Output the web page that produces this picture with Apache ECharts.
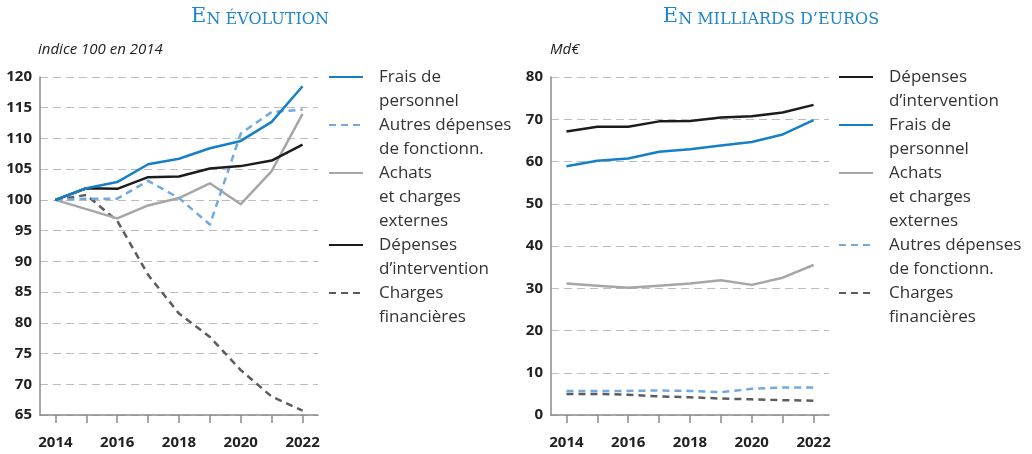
<!DOCTYPE html>
<html>
<head>
<meta charset="utf-8">
<script src="https://cdn.jsdelivr.net/npm/echarts@6/dist/echarts.min.js"></script>
<style>
  html, body { margin: 0; padding: 0; background: #fff; }
  #chart { width: 1032px; height: 454px; }
</style>
</head>
<body>
<div id="chart"></div>
<script>
// years on both x axes
const years = ['2014', '2015', '2016', '2017', '2018', '2019', '2020', '2021', '2022']

// left panel: indice 100 en 2014
const idxFrais = [100, 101.9, 102.9, 105.8, 106.7, 108.4, 109.6, 112.7, 118.5]
const idxAutres = [100, 100.2, 100.2, 103.1, 100.3, 96.0, 110.8, 114.3, 114.7]
const idxAchats = [100, 98.5, 97.0, 99.1, 100.3, 102.7, 99.3, 104.7, 114.0]
const idxInterv = [100, 101.9, 101.8, 103.7, 103.8, 105.1, 105.5, 106.4, 109.0]
const idxCharges = [100, 100.8, 96.6, 87.8, 81.5, 77.7, 72.3, 68.0, 65.7]

// right panel: Md€
const mdInterv = [67.1, 68.2, 68.2, 69.5, 69.6, 70.4, 70.7, 71.6, 73.4]
const mdFrais = [58.9, 60.2, 60.7, 62.3, 62.9, 63.8, 64.6, 66.4, 69.8]
const mdAchats = [31.1, 30.6, 30.1, 30.6, 31.1, 31.9, 30.8, 32.5, 35.5]
const mdAutres = [5.7, 5.7, 5.7, 5.8, 5.7, 5.4, 6.2, 6.5, 6.5]
const mdCharges = [5.0, 5.0, 4.8, 4.4, 4.2, 3.9, 3.7, 3.5, 3.4]

// axis ticks
const idxTicks = { min: 65, max: 120, interval: 5 }
const mdTicks = { min: 0, max: 80, interval: 10 }

const N_FRAIS = 'Frais de personnel'
const N_AUTRES = 'Autres dépenses de fonctionn.'
const N_ACHATS = 'Achats et charges externes'
const N_INTERV = 'Dépenses d’intervention'
const N_CHARGES = 'Charges financières'

const legendLines = {
  [N_FRAIS]: ['Frais de', 'personnel'],
  [N_AUTRES]: ['Autres dépenses', 'de fonctionn.'],
  [N_ACHATS]: ['Achats', 'et charges', 'externes'],
  [N_INTERV]: ['Dépenses', 'd’intervention'],
  [N_CHARGES]: ['Charges', 'financières'],
}

const styles = {
  [N_FRAIS]: { color: '#1580c6', type: 'solid' },
  [N_AUTRES]: { color: '#72a9de', type: [7, 5] },
  [N_ACHATS]: { color: '#a6a6a6', type: 'solid' },
  [N_INTERV]: { color: '#1c1c1c', type: 'solid' },
  [N_CHARGES]: { color: '#5c5c5c', type: [7, 5] },
}

const SANS = '"Open Sans", "Noto Sans", sans-serif'
const SERIF = '"DejaVu Serif", "Liberation Serif", serif'
const LH = 24

const chart = echarts.init(document.getElementById('chart'), null, { renderer: 'canvas' })

function line(name, data, axis) {
  const s = styles[name]
  return {
    name, type: 'line', data,
    xAxisIndex: axis, yAxisIndex: axis,
    symbol: 'none',
    lineStyle: { color: s.color, width: 2.5, type: s.type, join: 'round' },
    itemStyle: { color: s.color },
  }
}

// text is centred on the icon, so blank lines on top push line 1 level with it
function legend(name, left, center) {
  const lines = legendLines[name]
  const n = lines.length
  return {
    data: [name], orient: 'vertical', left, top: center - (2 * n - 1) * LH / 2,
    padding: 0, itemWidth: 34, itemHeight: 14,
    itemStyle: { opacity: 0 },
    formatter: () => '\n'.repeat(n - 1) + lines.join('\n'),
    textStyle: { fontFamily: SANS, fontSize: 17, lineHeight: LH, color: '#333', padding: [0, 0, 0, 11] },
  }
}

function xAxis(gridIndex) {
  return {
    type: 'category', gridIndex, data: years, boundaryGap: true,
    axisLine: { lineStyle: { color: '#8a8a8a', width: 1.5 } },
    axisTick: { show: true, alignWithLabel: true, interval: 0, length: 8, lineStyle: { color: '#8a8a8a', width: 1.5 } },
    axisLabel: { interval: 1, margin: 20, color: '#222', fontFamily: SANS, fontWeight: 'bold', fontSize: 15 },
  }
}

function yAxis(gridIndex, t) {
  return {
    type: 'value', gridIndex, min: t.min, max: t.max, interval: t.interval,
    axisLine: { show: true, lineStyle: { color: '#8a8a8a', width: 1.5 } },
    axisTick: { show: false },
    axisLabel: { margin: 8, color: '#222', fontFamily: SANS, fontWeight: 'bold', fontSize: 15 },
    splitLine: { show: true, lineStyle: { color: '#bdbdbd', width: 1.2, type: [8, 5] } },
  }
}

function title(x, rest) {
  return {
    type: 'text', x, y: 17,
    style: {
      text: '{b|E}{s|' + rest + '}',
      align: 'center', verticalAlign: 'middle',
      rich: {
        b: { fontFamily: SERIF, fontSize: 21, fill: '#1f86c7', verticalAlign: 'bottom' },
        s: { fontFamily: SERIF, fontSize: 16, fill: '#1f86c7', verticalAlign: 'bottom' },
      },
    },
  }
}

chart.setOption({
  animation: false,
  grid: [
    { left: 40, top: 77, width: 278, height: 338 },
    { left: 551, top: 77, width: 278, height: 338 },
  ],
  xAxis: [xAxis(0), xAxis(1)],
  yAxis: [yAxis(0, idxTicks), yAxis(1, mdTicks)],
  legend: [
    legend(N_FRAIS, 328, 77),
    legend(N_AUTRES, 328, 125),
    legend(N_ACHATS, 328, 173),
    legend(N_INTERV, 328, 245),
    legend(N_CHARGES, 328, 293),
    legend(N_INTERV, 838, 77),
    legend(N_FRAIS, 838, 125),
    legend(N_ACHATS, 838, 173),
    legend(N_AUTRES, 838, 245),
    legend(N_CHARGES, 838, 293),
  ],
  graphic: [
    title(260, 'N ÉVOLUTION'),
    title(771, 'N MILLIARDS D’EUROS'),
    { type: 'text', x: 38, y: 50, style: { text: 'indice 100 en 2014', fontFamily: SANS, fontStyle: 'italic', fontSize: 15, fill: '#222', verticalAlign: 'middle' } },
    { type: 'text', x: 550, y: 50, style: { text: 'Md€', fontFamily: SANS, fontStyle: 'italic', fontSize: 15, fill: '#222', verticalAlign: 'middle' } },
  ],
  series: [
    line(N_CHARGES, idxCharges, 0),
    line(N_ACHATS, idxAchats, 0),
    line(N_AUTRES, idxAutres, 0),
    line(N_INTERV, idxInterv, 0),
    line(N_FRAIS, idxFrais, 0),
    line(N_CHARGES, mdCharges, 1),
    line(N_AUTRES, mdAutres, 1),
    line(N_ACHATS, mdAchats, 1),
    line(N_FRAIS, mdFrais, 1),
    line(N_INTERV, mdInterv, 1),
  ],
})
</script>
</body>
</html>
